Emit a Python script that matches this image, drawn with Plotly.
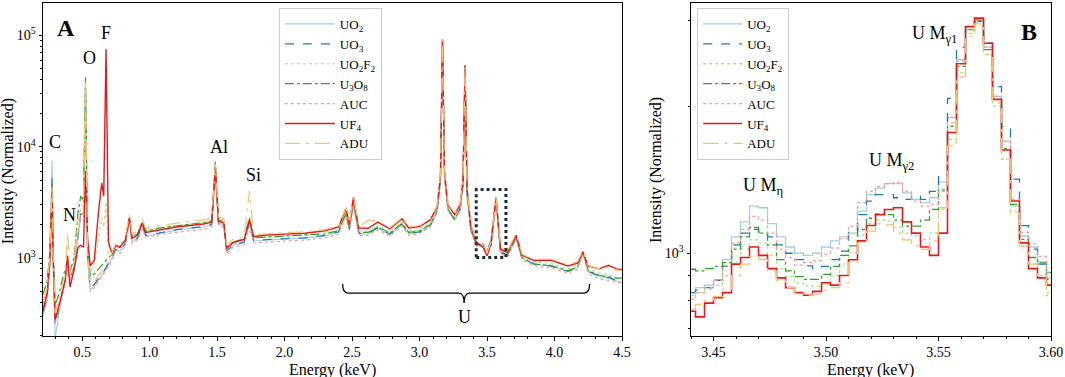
import plotly.graph_objects as go

# ---------------- data ----------------
series_names = ["UO<sub>2</sub>", "UO<sub>3</sub>", "UO<sub>2</sub>F<sub>2</sub>",
                "U<sub>3</sub>O<sub>8</sub>", "AUC", "UF<sub>4</sub>", "ADU"]
colors = ["#a6cee3", "#1f78b4", "#b2df8a", "#33a02c", "#fb9a99", "#e31a1c", "#fdbf6f"]
dashes = ["solid", "dash", "dot", "dashdot", "dot", "solid", "longdashdot"]
widths_a = [1.2, 1.2, 1.2, 1.2, 1.2, 1.4, 1.2]
widths_b = [1.3, 1.3, 1.3, 1.3, 1.3, 1.6, 1.3]

# Panel A: full spectrum
energy_a = [0.21, 0.24, 0.26, 0.27, 0.277, 0.285, 0.30, 0.33, 0.36, 0.375,
            0.392, 0.41, 0.44, 0.47, 0.49, 0.51, 0.525, 0.54, 0.56, 0.59,
            0.62, 0.645, 0.66, 0.677, 0.695, 0.72, 0.75, 0.78, 0.82, 0.85,
            0.87, 0.91, 0.945, 0.97, 1.0, 1.1, 1.2, 1.3, 1.4, 1.46,
            1.487, 1.51, 1.55, 1.57, 1.62, 1.70, 1.74, 1.77, 1.85, 2.0,
            2.15, 2.3, 2.4, 2.455, 2.48, 2.51, 2.55, 2.62, 2.69, 2.78,
            2.87, 2.92, 3.0, 3.08, 3.13, 3.155, 3.17, 3.185, 3.21, 3.26,
            3.30, 3.322, 3.337, 3.352, 3.38, 3.42, 3.47, 3.50, 3.53, 3.567,
            3.60, 3.65, 3.715, 3.76, 3.85, 3.97, 4.1, 4.17, 4.21, 4.25,
            4.33, 4.40, 4.46, 4.5]

uo2_a = [300, 420, 900, 2500, 7500, 1500, 190, 330, 500, 620,
         850, 650, 850, 1700, 2400, 2600, 32000, 1000, 520, 560,
         640, 700, 750, 800, 870, 1000, 1200, 1150, 1350, 2200,
         1400, 1500, 1950, 1600, 1600, 1700, 1780, 1850, 1900, 1980,
         6500, 2050, 1950, 1150, 1300, 1380, 2000, 1420, 1450, 1480,
         1510, 1580, 1700, 2500, 1800, 3100, 1650, 1650, 1850, 1620,
         2000, 1650, 1700, 1950, 2600, 5000, 90000, 5500, 2700, 2200,
         2700, 4500, 52000, 3800, 1800, 1300, 1350, 1150, 1500, 3400,
         1150, 1050, 1500, 1000, 880, 850, 760, 820, 1150, 760,
         680, 660, 620, 610]

uo3_a = [330, 450, 850, 2000, 5200, 1200, 250, 360, 540, 640,
         850, 640, 820, 1600, 2500, 2700, 35000, 1100, 540, 580,
         660, 720, 760, 820, 880, 1000, 1200, 1150, 1350, 2200,
         1400, 1500, 1950, 1600, 1620, 1720, 1800, 1860, 1920, 2000,
         6500, 2050, 1970, 1160, 1310, 1390, 2100, 1430, 1460, 1490,
         1520, 1600, 1720, 2500, 1820, 3100, 1670, 1670, 1870, 1640,
         2020, 1670, 1720, 1970, 2620, 5000, 90000, 5500, 2720, 2220,
         2720, 4500, 52000, 3800, 1800, 1320, 1320, 1130, 1450, 3500,
         1150, 1060, 1500, 1000, 880, 850, 760, 820, 1150, 760,
         690, 670, 630, 620]

uo2f2_a = [380, 500, 900, 1800, 4000, 1000, 280, 400, 560, 650,
           900, 700, 900, 1800, 2700, 3000, 33000, 1300, 720, 900,
           1400, 2300, 1900, 3200, 1100, 1050, 1250, 1250, 1450, 2300,
           1550, 1650, 2100, 1750, 1780, 1880, 1950, 2020, 2080, 2160,
           7000, 2200, 2120, 1250, 1400, 1480, 2300, 1520, 1540, 1570,
           1600, 1680, 1800, 2600, 1900, 3300, 1750, 1750, 1950, 1720,
           2100, 1750, 1800, 2050, 2700, 5200, 92000, 5600, 2800, 2300,
           2800, 4700, 53000, 3900, 1850, 1350, 1300, 1100, 1350, 3400,
           1150, 1080, 1550, 1020, 920, 900, 800, 860, 1150, 800,
           730, 710, 670, 660]

u3o8_a = [470, 620, 1100, 2200, 4600, 1300, 380, 480, 700, 780,
          950, 760, 1000, 2600, 3600, 3300, 42000, 1400, 680, 720,
          800, 860, 900, 950, 1000, 1080, 1300, 1250, 1450, 2300,
          1550, 1650, 2100, 1750, 1780, 1880, 1950, 2020, 2080, 2160,
          7300, 2200, 2120, 1250, 1400, 1480, 2300, 1520, 1540, 1570,
          1600, 1650, 1760, 2550, 1850, 3200, 1700, 1700, 1900, 1680,
          2050, 1700, 1750, 2000, 2650, 5100, 90000, 5500, 2750, 2250,
          2750, 4600, 54000, 3850, 1800, 1300, 1280, 1060, 1300, 3400,
          1120, 1050, 1550, 1000, 880, 860, 770, 830, 1100, 770,
          700, 680, 660, 660]

auc_a = [310, 420, 800, 1800, 3800, 1000, 260, 350, 520, 600,
         820, 620, 820, 1600, 2400, 2500, 30000, 1000, 500, 540,
         620, 680, 720, 780, 840, 950, 1150, 1100, 1300, 2100,
         1350, 1450, 1850, 1550, 1550, 1640, 1700, 1760, 1820, 1900,
         6000, 1950, 1880, 1100, 1250, 1320, 1900, 1360, 1390, 1420,
         1450, 1520, 1640, 2400, 1750, 3000, 1600, 1600, 1800, 1570,
         1950, 1600, 1650, 1900, 2550, 4900, 88000, 5300, 2650, 2150,
         2650, 4400, 50000, 3700, 1750, 1280, 1300, 1120, 1480, 3400,
         1100, 1020, 1450, 960, 850, 820, 730, 790, 1100, 720,
         650, 630, 600, 590]

uf4_a = [340, 480, 900, 2000, 4000, 1000, 280, 380, 560, 640,
         1050, 550, 780, 1250, 1300, 1250, 6000, 1500, 850, 950,
         2500, 4700, 3600, 75000, 1400, 1100, 1300, 1250, 1450, 2300,
         1500, 1600, 2050, 1700, 1720, 1820, 1900, 1960, 2020, 2100,
         6500, 2150, 2060, 1220, 1380, 1460, 2200, 1560, 1600, 1640,
         1670, 1760, 1900, 2800, 2000, 3500, 1860, 1850, 2100, 1830,
         2250, 1860, 1920, 2200, 2900, 5500, 92000, 6000, 3000, 2450,
         3000, 5000, 53000, 4200, 1950, 1400, 1250, 1050, 1350, 3500,
         1200, 1120, 1600, 1060, 950, 960, 850, 900, 1130, 850,
         800, 860, 800, 790]

adu_a = [400, 540, 1000, 2200, 4500, 1100, 320, 420, 620, 700,
         1700, 720, 950, 2200, 3000, 3000, 40000, 1200, 560, 600,
         700, 760, 800, 860, 950, 1100, 1350, 1300, 1550, 2450,
         1650, 1750, 2250, 1850, 1880, 1980, 2060, 2130, 2200, 2280,
         7000, 2350, 2250, 1320, 1480, 1560, 4000, 1620, 1650, 1690,
         1720, 1800, 1940, 2850, 2050, 3600, 1900, 2200, 2150, 1870,
         2300, 1900, 1960, 2250, 2950, 5600, 92000, 6000, 3050, 2500,
         3050, 5000, 53000, 4200, 2000, 1450, 1300, 1100, 1400, 3500,
         1250, 1150, 1650, 1080, 970, 980, 870, 930, 1150, 860,
         800, 830, 780, 770]

# Panel B: zoom 3.44 - 3.60 keV
energy_b = [3.440, 3.444, 3.448, 3.452, 3.456, 3.460, 3.464, 3.468, 3.472, 3.476,
            3.480, 3.484, 3.488, 3.492, 3.496, 3.500, 3.504, 3.508, 3.512, 3.516,
            3.520, 3.524, 3.528, 3.532, 3.536, 3.540, 3.544, 3.548, 3.552, 3.556,
            3.560, 3.564, 3.568, 3.572, 3.576, 3.580, 3.584, 3.588, 3.592, 3.596,
            3.600]

uo2_b = [830, 850, 860, 880, 970, 1080, 1160, 1250, 1240, 1150,
         1080, 1030, 1000, 990, 1000, 1030, 1060, 1080, 1100, 1220,
         1320, 1360, 1390, 1390, 1330, 1290, 1270, 1300, 1400, 1900,
         2500, 2920, 3010, 2650, 2100, 1700, 1250, 1085, 1030, 960,
         890]

uo3_b = [830, 840, 850, 880, 940, 1040, 1100, 1120, 1105, 1080,
         1040, 1000, 970, 942, 930, 940, 970, 1010, 1110, 1200,
         1280, 1320, 1320, 1300, 1290, 1310, 1290, 1340, 1450, 2080,
         2650, 2920, 2990, 2700, 2200, 1820, 1420, 1140, 1020, 950,
         884]

uo2f2_b = [818, 830, 843, 860, 899, 960, 1020, 1065, 1050, 990,
           930, 895, 868, 857, 855, 865, 900, 950, 1003, 1090,
           1150, 1170, 1165, 1130, 1100, 1085, 1068, 1100, 1230, 1713,
           2350, 2830, 2990, 2560, 2005, 1560, 1220, 1035, 950, 900,
           830]

u3o8_b = [927, 920, 930, 940, 957, 1020, 1080, 1130, 1100, 1040,
          970, 920, 895, 884, 884, 905, 940, 990, 1035, 1120,
          1180, 1205, 1200, 1170, 1137, 1137, 1170, 1230, 1350, 1823,
          2420, 2880, 3010, 2620, 2070, 1640, 1260, 1068, 980, 955,
          913]

auc_b = [805, 830, 850, 880, 942, 1050, 1120, 1190, 1170, 1100,
         1020, 980, 945, 957, 965, 995, 1025, 1070, 1137, 1270,
         1340, 1370, 1390, 1400, 1340, 1280, 1250, 1260, 1340, 1855,
         2480, 2880, 3010, 2650, 2100, 1700, 1290, 1103, 1045, 985,
         913]

uf4_b = [760, 740, 790, 810, 830, 950, 980, 1030, 990, 930,
         890, 850, 830, 820, 835, 870, 860, 900, 970, 1060,
         1140, 1200, 1230, 1240, 1160, 1100, 1030, 990, 1100, 1770,
         2450, 2920, 3040, 2700, 2070, 1630, 1280, 1050, 930, 890,
         860]

adu_b = [767, 785, 800, 815, 843, 900, 950, 985, 970, 920,
         880, 850, 828, 818, 825, 840, 850, 870, 957, 1050,
         1110, 1150, 1145, 1100, 1065, 1035, 1019, 1060, 1240, 1660,
         2300, 2785, 2960, 2560, 2035, 1560, 1210, 1035, 950, 900,
         818]

values_a = [uo2_a, uo3_a, uo2f2_a, u3o8_a, auc_a, uf4_a, adu_a]
values_b = [uo2_b, uo3_b, uo2f2_b, u3o8_b, auc_b, uf4_b, adu_b]

# ---------------- figure ----------------
FONT = "Liberation Serif"
fig = go.Figure()

for name, col, dsh, wa, ya in zip(series_names, colors, dashes, widths_a, values_a):
    fig.add_trace(go.Scatter(x=energy_a, y=ya, mode="lines", name=name,
                             line=dict(color=col, dash=dsh, width=wa),
                             xaxis="x", yaxis="y", legend="legend"))
for name, col, dsh, wb, yb in zip(series_names, colors, dashes, widths_b, values_b):
    fig.add_trace(go.Scatter(x=energy_b, y=yb, mode="lines", name=name,
                             line=dict(color=col, dash=dsh, width=wb, shape="hvh"),
                             xaxis="x2", yaxis="y2", legend="legend2"))

axis_common = dict(showline=True, linecolor="black", linewidth=1, mirror=True,
                   ticks="outside", ticklen=3.5, tickwidth=1, tickcolor="black",
                   showgrid=False, zeroline=False,
                   tickfont=dict(family=FONT, size=14, color="black"))

minor_log_a = [m * 10 ** e for e in (2, 3, 4, 5) for m in range(2, 10)]
minor_log_b = [700, 800, 900, 2000, 3000]

legend_common = dict(bgcolor="rgba(255,255,255,0.9)", bordercolor="#cccccc",
                     borderwidth=1, font=dict(family=FONT, size=13, color="black"),
                     xanchor="left", yanchor="top", tracegroupgap=0)

fig.update_layout(
    width=1065, height=377,
    margin=dict(l=43, r=14, t=3, b=41),
    paper_bgcolor="white", plot_bgcolor="white",
    font=dict(family=FONT, color="black"),
    xaxis=dict(domain=[0, 0.5744], range=[0.21, 4.5], anchor="y",
               tickvals=[0.5, 1.0, 1.5, 2.0, 2.5, 3.0, 3.5, 4.0, 4.5],
               ticktext=["0.5", "1.0", "1.5", "2.0", "2.5", "3.0", "3.5", "4.0", "4.5"],
               minor=dict(dtick=0.1, tick0=0, ticks="outside", ticklen=2,
                          tickcolor="black"),
               **axis_common),
    yaxis=dict(type="log", range=[2.3, 5.29], anchor="x",
               tickvals=[1e3, 1e4, 1e5],
               ticktext=["10<sup>3</sup>", "10<sup>4</sup>", "10<sup>5</sup>"],
               minor=dict(tickvals=minor_log_a, ticks="outside", ticklen=2,
                          tickcolor="black"),
               **axis_common),
    xaxis2=dict(domain=[0.6429, 1], range=[3.44, 3.60], anchor="y2",
                tickvals=[3.45, 3.50, 3.55, 3.60],
                ticktext=["3.45", "3.50", "3.55", "3.60"],
                minor=dict(dtick=0.01, tick0=3.44, ticks="outside", ticklen=2,
                           tickcolor="black"),
                **axis_common),
    yaxis2=dict(type="log", range=[2.830, 3.514], anchor="x2",
                tickvals=[1e3], ticktext=["10<sup>3</sup>"],
                minor=dict(tickvals=minor_log_b, ticks="outside", ticklen=2,
                           tickcolor="black"),
                **axis_common),
    legend=dict(x=0.234, y=0.985, itemwidth=50, **legend_common),
    legend2=dict(x=0.649, y=0.985, itemwidth=39, **legend_common),
    showlegend=True,
)

# ---------------- annotations ----------------
def ann(text, x, y, xref, yref, size=18, bold=False, angle=0):
    t = f"<b>{text}</b>" if bold else text
    fig.add_annotation(text=t, x=x, y=y, xref=xref, yref=yref, showarrow=False,
                       xanchor="center", yanchor="middle", textangle=angle,
                       font=dict(family=FONT, size=size, color="black"))

ann("A", 0.04, 0.925, "x domain", "y domain", size=24, bold=True)
ann("C", 0.30, 0.583, "x", "y domain")
ann("N", 0.403, 0.363, "x", "y domain")
ann("O", 0.558, 0.835, "x", "y domain")
ann("F", 0.68, 0.91, "x", "y domain")
ann("Al", 1.514, 0.568, "x", "y domain")
ann("Si", 1.77, 0.483, "x", "y domain")
ann("U", 3.33, 0.057, "x", "y domain")

ann("B", 3.590, 0.913, "x2", "y2 domain", size=24, bold=True)
ann("U M<sub>γ1</sub>", 3.548, 0.905, "x2", "y2 domain")
ann("U M<sub>γ2</sub>", 3.529, 0.525, "x2", "y2 domain")
ann("U M<sub>η</sub>", 3.472, 0.45, "x2", "y2 domain")

# axis titles
ann("Intensity (Normalized)", -0.0347, 0.495, "paper", "paper", size=16, angle=-90)
ann("Intensity (Normalized)", 0.608, 0.498, "paper", "paper", size=16, angle=-90)
ann("Energy (keV)", 0.2872, -0.103, "paper", "paper", size=16)
ann("Energy (keV)", 0.8214, -0.103, "paper", "paper", size=16)

# dotted box marking zoom region
fig.add_shape(type="rect", xref="x", yref="y domain", x0=3.42, x1=3.64,
              y0=0.236, y1=0.44, line=dict(color="#1c2a3a", width=3, dash="dot"))

# brace under the U lines
brace = ("M 2.43,0.156 Q 2.43,0.129 2.47,0.129 L 3.29,0.129 "
         "Q 3.33,0.129 3.33,0.099 Q 3.33,0.129 3.37,0.129 "
         "L 4.22,0.129 Q 4.26,0.129 4.26,0.156")
fig.add_shape(type="path", xref="x", yref="y domain", path=brace,
              line=dict(color="black", width=1.3))

fig.write_html("out.html",
               config={"displayModeBar": False},
               post_script="document.body.style.margin='0';document.body.style.overflow='hidden';")
